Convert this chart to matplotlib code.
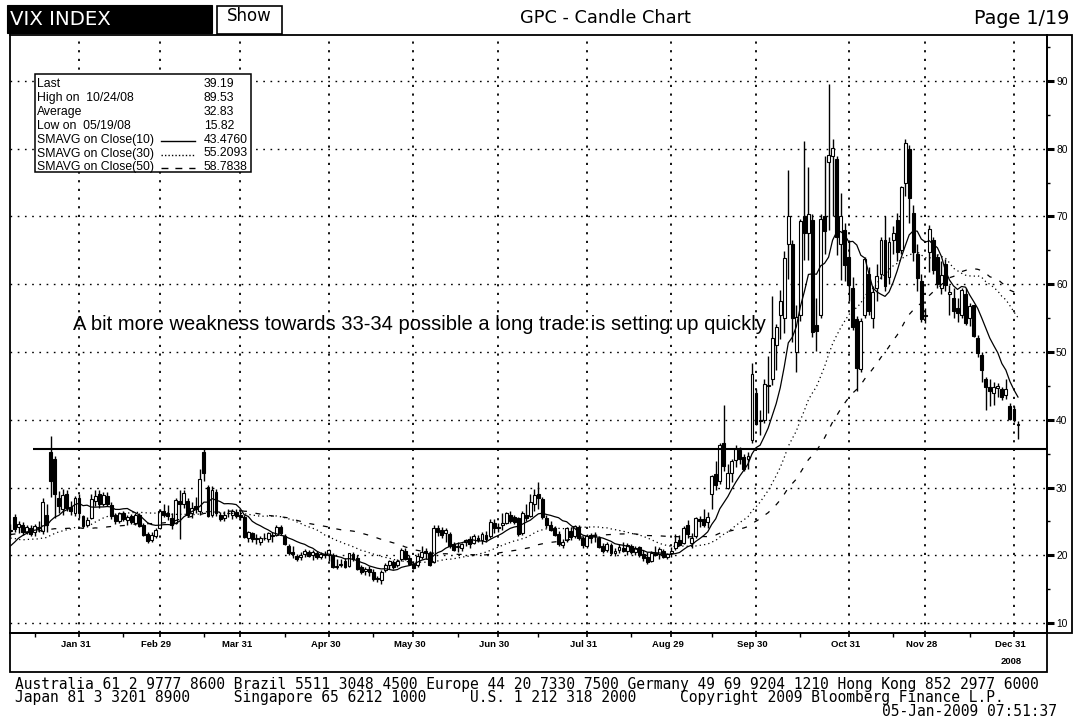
import numpy as np
import pandas as pd
import matplotlib
matplotlib.use("Agg")
import matplotlib.pyplot as plt
from matplotlib import font_manager
from matplotlib.patches import Rectangle
from matplotlib.lines import Line2D
from matplotlib.transforms import ScaledTranslation

# ---------------------------------------------------------------- data
holidays = ["2008-01-21", "2008-02-18", "2008-03-21", "2008-05-26", "2008-07-04",
            "2008-09-01", "2008-11-27", "2008-12-25", "2009-01-01"]

# closes before the visible window (2007-10-24 .. 2008-01-04), used for the moving averages
warmup_closes = [21.0, 20.4, 19.0, 18.5, 19.0, 18.5,
                 23.2, 23.0, 22.8, 21.4, 26.5, 25.1, 28.5, 28.0, 24.1, 25.0, 27.0, 25.5,
                 28.1, 26.8, 26.8, 25.4, 28.9, 25.6, 22.2, 22.6, 22.9,
                 23.8, 23.8, 22.5, 20.9, 20.9, 20.3, 24.0, 22.6, 22.5, 22.6, 24.5, 23.6,
                 22.0, 20.6, 18.5, 18.6, 19.5, 21.0, 20.3, 22.5,
                 23.2, 22.5, 23.9]

# daily candles 2008-01-07 .. 2009-01-02
opens = [
    # Jan
    23.6, 25.7, 24.2, 24.4, 23.5, 24.0, 23.4, 24.0, 23.6, 26.0, 35.2, 34.2, 28.5, 26.8, 29.0, 27.1, 26.2, 28.5,
    # Feb
    25.8, 24.5, 25.5, 28.0, 29.0, 27.6, 28.8, 27.4, 25.9, 25.0, 26.3, 25.2, 25.8, 24.8, 26.0, 24.5, 23.1, 22.2, 22.8, 24.0,
    # Mar
    26.6, 26.2, 25.5, 24.8, 28.0, 27.5, 28.0, 26.2, 27.3, 26.5, 35.2, 30.0, 25.9, 29.4, 26.0, 25.5, 26.2, 26.0, 26.4, 26.0,
    # Apr
    25.6, 22.6, 23.3, 22.5, 22.0, 22.6, 22.4, 23.0, 23.0, 24.1, 22.8, 21.4, 20.5, 19.9, 19.8, 20.2, 20.5, 20.0, 20.4, 19.8, 20.2, 20.0,
    # May
    20.0, 18.4, 18.6, 19.1, 18.4, 20.2, 19.6, 18.2, 17.7, 17.9, 17.6, 16.6, 16.4, 17.8, 18.5, 19.0, 18.5, 19.4, 20.6, 19.6, 18.7,
    # Jun
    18.5, 19.8, 20.6, 20.4, 19.0, 24.0, 23.8, 23.3, 23.2, 21.6, 21.2, 21.0, 22.0, 22.4, 21.8, 22.6, 22.3, 23.0, 22.8, 24.8, 24.2,
    # Jul
    24.5, 24.8, 26.0, 25.6, 25.5, 23.3, 26.0, 25.8, 27.5, 29.0, 28.3, 25.5, 24.5, 24.0, 23.1, 21.5, 22.3, 23.6, 22.8, 24.2, 22.6, 21.4,
    # Aug
    23.0, 22.8, 22.5, 21.3, 20.8, 21.5, 20.3, 20.8, 21.1, 20.7, 21.3, 20.5, 21.2, 20.2, 19.8, 19.2, 20.4, 20.2, 20.6, 19.8, 20.3,
    # Sep
    21.0, 22.2, 21.8, 24.5, 21.8, 22.8, 25.3, 25.3, 24.9, 29.0, 32.0, 31.0, 36.5, 30.0, 32.2, 34.0, 35.5, 34.5, 34.2, 37.0, 44.0,
    # Oct
    40.0, 40.0, 45.0, 46.0, 51.0, 55.5, 55.0, 66.0, 66.0, 50.0, 55.5, 70.0, 67.5, 69.5, 54.0, 55.5, 70.0, 78.0, 79.0, 78.5, 66.0, 68.0, 64.0,
    # Nov
    59.5, 54.9, 47.5, 55.5, 61.5, 55.0, 59.5, 61.5, 66.5, 61.0, 66.5, 69.5, 65.0, 75.0, 80.0, 70.5, 64.5, 60.5, 55.5,
    # Dec
    64.8, 66.5, 64.0, 59.5, 63.0, 58.5, 58.0, 56.5, 55.5, 58.5, 55.0, 56.9, 52.0, 49.6, 46.0, 44.8, 44.0, 44.7, 44.6, 43.6, 42.1, 41.6,
    # Jan 2009
    39.4,
]
highs = [
    24.6, 26.1, 25.0, 24.9, 24.5, 24.4, 24.6, 25.0, 28.5, 27.5, 37.6, 34.6, 29.5, 29.8, 29.7, 28.0, 28.8, 29.0,
    26.0, 25.6, 29.0, 29.6, 29.6, 29.3, 29.4, 27.8, 26.3, 26.4, 26.6, 26.0, 26.1, 26.2, 26.3, 24.8, 23.5, 23.4, 24.0, 26.8,
    27.6, 27.4, 26.2, 28.5, 29.6, 29.6, 28.5, 27.8, 28.6, 32.8, 35.8, 30.4, 30.2, 29.8, 26.4, 26.5, 26.8, 26.9, 26.8, 26.7,
    25.9, 23.6, 23.5, 23.2, 22.8, 23.3, 23.5, 23.4, 24.4, 24.4, 23.2, 21.7, 21.3, 20.2, 20.5, 20.9, 20.8, 20.8, 20.6, 20.5, 20.6, 20.9,
    20.3, 19.4, 19.5, 19.6, 20.4, 20.5, 20.0, 18.6, 18.3, 18.4, 17.9, 17.0, 17.8, 18.8, 19.3, 19.3, 19.4, 21.1, 21.0, 20.0, 19.2,
    20.3, 21.4, 21.0, 20.6, 24.5, 24.4, 24.2, 24.0, 23.4, 22.0, 22.0, 21.8, 22.4, 22.8, 23.2, 23.0, 23.5, 23.6, 25.3, 25.4, 24.8,
    26.3, 26.4, 26.5, 26.0, 25.6, 26.5, 27.5, 29.0, 29.8, 30.8, 28.6, 26.0, 25.0, 24.3, 23.6, 22.4, 24.2, 24.2, 24.4, 24.4, 22.8, 23.2,
    23.3, 23.4, 22.8, 21.8, 21.9, 21.8, 21.0, 21.6, 21.9, 21.8, 21.6, 21.3, 21.4, 20.8, 20.5, 20.6, 21.3, 21.2, 20.9, 20.4, 21.2,
    23.2, 23.0, 24.3, 25.2, 23.3, 25.6, 25.8, 26.8, 26.4, 31.9, 33.9, 36.5, 42.2, 33.5, 34.2, 36.3, 36.0, 35.0, 35.2, 48.4, 44.5,
    41.5, 46.0, 49.4, 58.2, 54.2, 59.1, 64.9, 76.9, 66.5, 57.0, 69.6, 81.2, 77.3, 70.3, 58.0, 70.3, 79.0, 89.53, 81.5, 79.0, 73.5, 69.0, 66.6,
    61.0, 55.3, 55.0, 64.0, 62.5, 59.8, 63.0, 67.0, 70.0, 67.0, 68.6, 70.5, 74.5, 81.5, 80.5, 71.7, 66.0, 61.5, 56.5,
    68.7, 67.0, 64.5, 63.5, 63.8, 59.9, 59.5, 58.0, 59.5, 59.4, 57.2, 57.0, 52.5, 50.0, 46.3, 46.0, 45.6, 45.4, 44.9, 46.0, 42.5, 42.0,
    39.8,
]
lows = [
    22.9, 23.5, 23.3, 23.0, 23.1, 22.9, 22.8, 23.4, 23.2, 23.5, 28.6, 25.5, 26.3, 26.0, 26.5, 26.0, 25.8, 25.5,
    24.0, 24.2, 25.3, 27.2, 27.0, 27.3, 27.2, 25.4, 24.6, 24.8, 25.1, 24.5, 24.6, 24.4, 24.1, 22.8, 21.8, 21.9, 22.5, 23.9,
    25.6, 25.2, 23.9, 24.6, 22.4, 27.0, 25.6, 25.5, 26.2, 26.0, 31.0, 25.7, 25.6, 25.8, 25.1, 25.0, 25.6, 25.3, 25.5, 25.2,
    22.5, 22.0, 22.0, 21.7, 21.5, 22.2, 22.0, 21.9, 22.8, 23.0, 21.5, 20.0, 19.6, 19.2, 19.3, 19.8, 19.7, 19.3, 19.5, 19.4, 19.6, 19.2,
    18.1, 18.0, 18.3, 18.1, 18.3, 19.2, 17.8, 17.3, 17.1, 17.0, 16.2, 16.1, 15.82, 17.5, 17.9, 18.0, 18.2, 19.2, 19.3, 18.5, 17.9,
    18.2, 19.5, 19.5, 18.4, 18.9, 22.8, 22.6, 22.0, 21.0, 20.6, 20.5, 20.6, 21.4, 21.0, 21.6, 22.0, 21.7, 21.9, 22.6, 23.3, 23.4,
    23.8, 24.6, 24.8, 24.6, 22.9, 23.0, 25.0, 25.6, 26.5, 26.8, 25.3, 24.0, 23.6, 22.8, 21.4, 21.1, 22.0, 22.3, 22.5, 22.3, 21.0, 21.0,
    21.8, 21.9, 21.0, 20.4, 20.5, 20.1, 19.9, 20.4, 20.5, 20.0, 20.2, 20.0, 19.8, 19.2, 18.7, 19.0, 19.9, 19.5, 19.6, 19.4, 19.8,
    20.8, 21.3, 21.7, 22.6, 21.0, 22.6, 24.2, 24.2, 24.0, 26.8, 29.6, 30.5, 32.5, 29.8, 30.8, 33.0, 33.5, 32.4, 32.8, 36.5, 39.2,
    37.8, 39.5, 41.0, 45.1, 47.3, 51.9, 52.8, 60.8, 51.5, 47.0, 54.6, 63.6, 63.6, 52.2, 50.2, 55.0, 64.5, 68.0, 70.0, 64.3, 60.7, 60.5, 57.6,
    53.3, 44.3, 47.0, 55.0, 55.5, 53.5, 57.5, 60.8, 59.0, 60.0, 64.5, 63.5, 64.5, 73.0, 69.0, 63.5, 59.0, 54.5, 54.3,
    61.8, 61.5, 59.5, 58.5, 59.0, 55.5, 55.0, 54.5, 55.0, 54.0, 53.8, 52.2, 49.3, 45.5, 41.4, 42.0, 42.2, 43.3, 42.9, 43.0, 39.9, 39.6,
    37.2,
]
closes = [
    23.8, 23.9, 24.6, 23.4, 24.2, 23.2, 24.3, 24.2, 27.9, 24.5, 31.0, 29.0, 27.2, 28.9, 27.0, 26.5, 28.5, 26.3,
    24.3, 25.2, 28.3, 28.8, 27.5, 28.9, 27.6, 25.8, 25.0, 26.2, 25.3, 25.6, 24.9, 25.9, 24.3, 23.0, 22.1, 23.0, 23.8, 26.5,
    26.0, 25.8, 24.5, 28.2, 27.5, 29.2, 26.0, 27.0, 26.8, 31.2, 32.2, 25.8, 29.6, 26.2, 25.3, 25.9, 26.2, 26.6, 25.8, 25.6,
    22.7, 23.4, 22.4, 22.4, 22.5, 22.5, 23.3, 22.8, 24.1, 23.3, 21.7, 20.4, 20.2, 19.5, 20.1, 20.7, 19.9, 20.5, 19.8, 20.2, 20.0, 20.8,
    18.2, 18.2, 18.7, 18.3, 20.3, 19.5, 18.0, 17.6, 18.0, 17.5, 16.5, 16.5, 17.6, 18.6, 19.2, 18.3, 19.1, 20.8, 19.5, 18.7, 18.1,
    19.9, 20.5, 20.3, 18.6, 24.0, 23.5, 23.0, 23.8, 21.4, 20.8, 21.4, 21.7, 22.2, 21.6, 22.9, 22.2, 23.2, 22.4, 24.9, 24.0, 24.0,
    24.8, 26.2, 25.1, 24.9, 23.2, 26.3, 25.5, 27.8, 28.9, 28.5, 25.6, 24.4, 23.8, 23.0, 21.6, 21.9, 24.0, 22.7, 24.3, 22.5, 21.5, 22.9,
    22.6, 23.0, 21.2, 20.6, 21.6, 20.4, 20.7, 21.2, 20.6, 21.5, 20.5, 21.0, 20.0, 19.6, 19.0, 20.3, 20.0, 20.9, 19.8, 20.2, 20.7,
    22.0, 21.5, 24.0, 23.1, 22.6, 25.5, 25.0, 24.4, 25.7, 31.7, 30.3, 36.2, 33.1, 32.1, 33.9, 35.7, 34.2, 32.8, 34.7, 46.7, 39.4,
    39.8, 45.3, 45.1, 52.1, 53.7, 57.5, 63.9, 70.0, 55.0, 55.1, 69.3, 67.6, 70.3, 53.0, 53.1, 69.7, 67.8, 79.1, 80.1, 67.0, 70.0, 62.9, 59.9,
    53.7, 47.7, 54.6, 63.7, 56.1, 58.9, 61.2, 66.5, 59.8, 66.3, 67.6, 64.7, 74.3, 80.9, 72.7, 64.7, 60.9, 54.9, 55.3,
    68.2, 62.1, 60.0, 61.4, 59.9, 58.9, 56.0, 55.7, 59.2, 54.3, 56.8, 52.4, 49.8, 47.3, 44.9, 44.2, 44.8, 45.0, 43.4, 44.6, 40.1, 40.0,
    39.19,
]

month_labels = ["Jan 31", "Feb 29", "Mar 31", "Apr 30", "May 30", "Jun 30",
                "Jul 31", "Aug 29", "Sep 30", "Oct 31", "Nov 28", "Dec 31"]
year_label = "2008"
y_ticks = [10, 20, 30, 40, 50, 60, 70, 80, 90]
y_minor = [15, 25, 35, 45, 55, 65, 75, 85, 95]
support_level = 35.7
ma_periods = [10, 30, 50]

legend_labels = ["Last", "High on  10/24/08", "Average", "Low on  05/19/08",
                 "SMAVG on Close(10)", "SMAVG on Close(30)", "SMAVG on Close(50)"]
legend_values = ["39.19", "89.53", "32.83", "15.82", "43.4760", "55.2093", "58.7838"]

note_text = "A bit more weakness towards 33-34 possible a long trade is setting up quickly"
footer_1 = "Australia 61 2 9777 8600 Brazil 5511 3048 4500 Europe 44 20 7330 7500 Germany 49 69 9204 1210 Hong Kong 852 2977 6000"
footer_2 = "Japan 81 3 3201 8900     Singapore 65 6212 1000     U.S. 1 212 318 2000     Copyright 2009 Bloomberg Finance L.P."
footer_3 = "05-Jan-2009 07:51:37"

assert len(opens) == len(highs) == len(lows) == len(closes) == 251

# ---------------------------------------------------------------- fonts
avail = {f.name for f in font_manager.fontManager.ttflist}


def pick(*names):
    for n in names:
        if n in avail:
            return n
    return "DejaVu Sans"


ARIAL = pick("Liberation Sans", "Arimo", "DejaVu Sans")
NARROW = pick("Liberation Sans Narrow", "Arial Narrow", ARIAL)
MONO = pick("DejaVu Sans Mono", "Liberation Mono")
HEAD = "DejaVu Sans"

# ---------------------------------------------------------------- figure
W, H, DPI = 1076, 723, 100
fig = plt.figure(figsize=(W / DPI, H / DPI), dpi=DPI)
fig.patch.set_facecolor("white")


def fx(x):
    return x / W


def fy(y):
    return 1 - y / H


# plot area (pixels from top-left)
PL, PR, PT, PB = 10, 1047, 35, 632.5
ax = fig.add_axes([fx(PL), fy(PB), (PR - PL) / W, (PB - PT) / H])

# trading-day axis
trade_days = pd.bdate_range("2008-01-02", "2009-01-02", freq="C", holidays=holidays)
t_all = np.arange(1, len(trade_days) + 1)
first = int(np.searchsorted(trade_days, pd.Timestamp("2008-01-07")))
t = t_all[first:first + len(closes)]
ser = pd.Series(t_all, index=trade_days)
s08 = ser[ser.index.year == 2008]
month_end_t = s08.groupby(s08.index.month).max().to_numpy()
mid_t = np.array([s08[(s08.index.month == m) & (s08.index.day >= 15)].iloc[0] for m in range(1, 13)])

o = np.array(opens)
h = np.array(highs)
l = np.array(lows)
c = np.array(closes)

# moving averages
all_close = pd.Series(warmup_closes + closes)
mas = [all_close.rolling(p).mean().to_numpy()[-len(closes):] for p in ma_periods]

# scales: pixel x = 79 + (t-21)*4.03 ; pixel y = 623 - (v-10)*6.775
PX_PER_DAY = 4.03
ax.set_xlim(21 + (PL - 79) / PX_PER_DAY, 21 + (PR - 79) / PX_PER_DAY)
ax.set_ylim(10 - (PB - 623) / 6.775, 10 + (623 - PT) / 6.775)

# grid
for v in y_ticks:
    ax.axhline(v, color="black", lw=1.0, ls=(0, (1.2, 4.0)), zorder=0.5)
for mt in month_end_t:
    ax.axvline(mt, color="black", lw=1.3, ls=(0, (1.2, 3.6)), zorder=0.5)

# support line
ax.hlines(support_level, t[0] + 5.6, ax.get_xlim()[1], color="black", lw=1.5, zorder=4)

# candles
ax.vlines(t, l, h, color="black", lw=1.0, zorder=2)
up = c >= o
ax.bar(t, np.abs(c - o), bottom=np.minimum(o, c), width=0.72,
       color=np.where(up, "white", "black"), edgecolor="black", linewidth=0.8, zorder=3)

# moving averages
ma_styles = ["-", (0, (1, 2.5)), (0, (4, 7))]
for ma, ls in zip(mas, ma_styles):
    ax.plot(t, ma, color="black", lw=0.9, ls=ls, zorder=3.5)

# axes styling
for sp in ax.spines.values():
    sp.set_linewidth(1.3)
ax.yaxis.tick_right()
ax.set_yticks(y_ticks)
ax.set_yticks(y_minor, minor=True)
ax.set_yticklabels([str(v) for v in y_ticks], fontsize=7.4, family=ARIAL)
ax.tick_params(axis="y", which="major", direction="out", length=5, width=2.2, pad=1.5)
ax.tick_params(axis="y", which="minor", direction="out", length=2, width=1)

ax.set_xticks(month_end_t)
ax.set_xticks(mid_t, minor=True)
ax.set_xticklabels(month_labels, fontsize=7.6 if NARROW != ARIAL else 6.8,
                   family=NARROW, fontweight="bold")
ax.tick_params(axis="x", which="major", direction="out", length=3, width=1.2, pad=2.5)
ax.tick_params(axis="x", which="minor", direction="out", length=3, width=1.0)
shift = ScaledTranslation(-3.5 / DPI, 0, fig.dpi_scale_trans)
for lab in ax.get_xticklabels():
    lab.set_transform(lab.get_transform() + shift)

# note
note = ax.text(21 + (73 - 79) / PX_PER_DAY, 10 + (623 - 325) / 6.775, note_text,
               fontsize=13.5, family=ARIAL, va="center", ha="left", zorder=6)

# frames: right label strip and bottom label strip
fig.add_artist(Rectangle((fx(PR), fy(PB)), (1072 - PR) / W, (PB - PT) / H,
                         fill=False, ec="black", lw=1.3, zorder=5))
fig.add_artist(Rectangle((fx(PL), fy(672)), (PR - PL) / W, (672 - PB) / H,
                         fill=False, ec="black", lw=1.3, zorder=5))
fig.text(fx(1011), fy(662), year_label, fontsize=7.4 if NARROW != ARIAL else 6.8,
         family=NARROW, fontweight="bold", ha="center", va="center")

# header
fig.add_artist(Rectangle((fx(7), fy(33)), 205 / W, 28 / H, fc="black", ec="black", lw=0.8, zorder=5))
hdr = fig.text(fx(10), fy(19.5), "VIX INDEX", color="white", fontsize=14, family=HEAD,
               ha="left", va="center", zorder=6)
fig.add_artist(Rectangle((fx(217), fy(33.5)), 65 / W, 27.5 / H, fc="white", ec="black", lw=1.2, zorder=5))
show = fig.text(fx(249.5), fy(16), "Show", fontsize=11, family=HEAD, ha="center", va="center", zorder=6)
title = fig.text(fx(605), fy(18), "GPC - Candle Chart", fontsize=12, family=HEAD,
                 ha="center", va="center")
page = fig.text(fx(1069), fy(18), "Page 1/19", fontsize=12, family=HEAD, ha="right", va="center")

# legend box
fig.add_artist(Rectangle((fx(35), fy(172)), (251 - 35) / W, (172 - 74) / H,
                         fc="white", ec="black", lw=1.1, zorder=7))
row_y = [84, 98, 112, 126, 140, 153.5, 167]
for lab, val, yy in zip(legend_labels, legend_values, row_y):
    fig.text(fx(37), fy(yy), lab, fontsize=8.8, family=ARIAL, ha="left", va="center", zorder=8)
    fig.text(fx(204), fy(yy), val, fontsize=8.8, family=ARIAL, ha="left", va="center", zorder=8)
sample_styles = ["-", (0, (1, 1.5)), (0, (5, 5))]
for ls, yy in zip(sample_styles, row_y[4:]):
    fig.add_artist(Line2D([fx(161), fx(195)], [fy(yy + 1)] * 2, color="black", lw=1.0, ls=ls, zorder=8))

# footer
f1 = fig.text(fx(15), fy(684), footer_1, fontsize=11, family=MONO, ha="left", va="center")
f2 = fig.text(fx(15), fy(697.5), footer_2, fontsize=11, family=MONO, ha="left", va="center")
f3 = fig.text(fx(1057), fy(711), footer_3, fontsize=11, family=MONO, ha="right", va="center")

# fit text widths to the reference
renderer = fig.canvas.get_renderer()


def fit(txt, width_px):
    w = txt.get_window_extent(renderer).width
    if w > 0:
        txt.set_fontsize(txt.get_fontsize() * width_px / w)


fit(note, 690)
fit(hdr, 101)
fit(show, 45)
fit(title, 169)
fit(page, 95)
fit(f1, 1020)
f2.set_fontsize(f1.get_fontsize())
f3.set_fontsize(f1.get_fontsize())

fig.savefig("out.png", dpi=DPI, facecolor="white")
